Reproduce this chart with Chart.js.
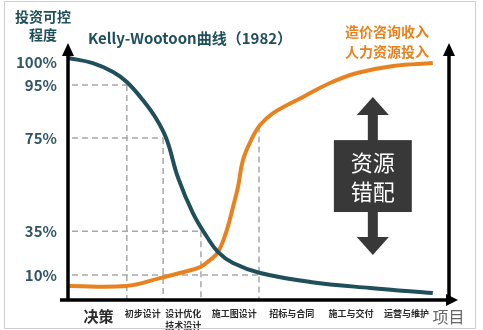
<!DOCTYPE html>
<html>
<head>
<meta charset="utf-8">
<script src="https://cdn.jsdelivr.net/npm/chart.js@4.4.1/dist/chart.umd.min.js"></script>
<style>
  body { margin: 0; background: #fff; }
  canvas { display: block; }
</style>
</head>
<body>
<canvas id="kelly" width="483" height="330"></canvas>
<script>
// stage axis (0..100 along the project life), control degree (0..100, schematic)
var stageLabels = ["决策", "初步设计", ["设计优化", "技术设计"], "施工图设计", "招标与合同", "施工与交付", "运营与维护", "项目"];
var stagePos = [8, 19.6, 30.2, 43.5, 58.6, 74.1, 88.6, 99.6];

var yTickLabels = ["100%", "95%", "75%", "35%", "10%"];
var yTickPos = [93.3, 84.3, 63.5, 27, 9.8];

// investment controllability curve (Kelly-Wootoon)
var investX = [0, 6.5, 11.8, 15.4, 19.6, 23.3, 25.9, 28.8, 32.7, 36.4, 39.3, 43.2, 50.3, 63.4, 79.1, 95.5];
var investY = [94.9, 92.9, 89.4, 85.5, 78.4, 70.6, 62.7, 48, 34.1, 24.7, 18.8, 14.5, 10.6, 7.1, 4.7, 2.7];

// consulting income / manpower input curve
var costX = [0, 15.2, 24.1, 29.3, 34.6, 37.2, 39.3, 41.6, 43.2, 44.5, 45.8, 48.2, 50.3, 53.7, 61.5, 68.6, 75.7, 85.1, 95.5];
var costY = [5.5, 5.5, 8.6, 10.6, 12.9, 15.7, 18.8, 27.5, 36.5, 44.3, 54.9, 63.5, 68.6, 73.3, 79.6, 85.1, 89, 91.8, 92.9];

// dashed guides: stage boundary x, level where the horizontal stops, top of vertical
var guideX = [15.4, 24.9, 34.8, 50];
var guideLevel = [84.3, 63.5, 27, 9.8];
var guideTop = [84.3, 63.5, 27, 68];

var FONT = "'Noto Sans CJK SC', 'Noto Sans', sans-serif";
var TEAL = "#1f4f5b";
var ORANGE = "#e8821e";

function pts(xs, ys) {
  return xs.map(function(x, i) { return { x: x, y: ys[i] }; });
}

var decor = {
  id: "decor",
  beforeDatasetsDraw: function(chart) {
    var ctx = chart.ctx, xs = chart.scales.x, ys = chart.scales.y;
    var left = chart.chartArea.left;
    ctx.save();
    ctx.strokeStyle = "#a8a8a8";
    ctx.lineWidth = 1.5;
    ctx.setLineDash([6, 4]);
    guideX.forEach(function(g, i) {
      var px = xs.getPixelForValue(g);
      var py = ys.getPixelForValue(guideLevel[i]);
      ctx.beginPath();
      ctx.moveTo(left + 4, py);
      ctx.lineTo(px, py);
      ctx.moveTo(px, ys.getPixelForValue(guideTop[i]));
      ctx.lineTo(px, ys.getPixelForValue(0));
      ctx.stroke();
    });
    ctx.restore();
  },
  afterDatasetsDraw: function(chart) {
    var ctx = chart.ctx, xs = chart.scales.x, ys = chart.scales.y;
    var a = chart.chartArea;
    ctx.save();

    // frame
    ctx.strokeStyle = "#cfcfcf";
    ctx.lineWidth = 1;
    ctx.strokeRect(4.5, 1.5, 471, 327);

    // axes
    ctx.strokeStyle = "#000";
    ctx.fillStyle = "#000";
    ctx.lineWidth = 3.5;
    ctx.beginPath();
    ctx.moveTo(a.left, a.bottom + 1);
    ctx.lineTo(a.left, a.top + 8);
    ctx.moveTo(a.left - 8, a.bottom);
    ctx.lineTo(a.right + 1, a.bottom);
    ctx.moveTo(a.right - 1, a.bottom);
    ctx.lineTo(a.right - 1, a.top + 8);
    ctx.stroke();
    function head(x, y, dir) {
      ctx.beginPath();
      if (dir === "up") {
        ctx.moveTo(x, y - 2);
        ctx.lineTo(x - 6, y + 11);
        ctx.lineTo(x + 6, y + 11);
      } else {
        ctx.moveTo(x + 12, y);
        ctx.lineTo(x, y - 6);
        ctx.lineTo(x, y + 6);
      }
      ctx.closePath();
      ctx.fill();
    }
    head(a.left, a.top, "up");
    head(a.right - 1, a.top, "up");
    head(a.right - 4, a.bottom, "right");

    // double arrow with box
    var bx1 = xs.getPixelForValue(69.6), bx2 = xs.getPixelForValue(90);
    var by1 = ys.getPixelForValue(62.7), by2 = ys.getPixelForValue(34.5);
    var cx = (bx1 + bx2) / 2;
    var tipTop = ys.getPixelForValue(79.6), tipBot = ys.getPixelForValue(17.6);
    ctx.fillStyle = "#383838";
    ctx.fillRect(cx - 5, tipTop + 16, 10, tipBot - tipTop - 32);
    ctx.beginPath();
    ctx.moveTo(cx, tipTop);
    ctx.lineTo(cx - 16, tipTop + 18);
    ctx.lineTo(cx + 16, tipTop + 18);
    ctx.closePath();
    ctx.fill();
    ctx.beginPath();
    ctx.moveTo(cx, tipBot);
    ctx.lineTo(cx - 16, tipBot - 18);
    ctx.lineTo(cx + 16, tipBot - 18);
    ctx.closePath();
    ctx.fill();
    ctx.fillRect(bx1, by1, bx2 - bx1, by2 - by1);
    ctx.fillStyle = "#fff";
    ctx.font = "22px " + FONT;
    ctx.textAlign = "center";
    ctx.textBaseline = "middle";
    ctx.fillText("资源", cx, by1 + 23);
    ctx.fillText("错配", cx, by1 + 52);

    // texts
    ctx.textAlign = "left";
    ctx.fillStyle = TEAL;
    ctx.font = "bold 14px " + FONT;
    ctx.fillText("投资可控", 15, 17);
    ctx.fillText("程度", 29, 35);
    ctx.font = "bold 15px " + FONT;
    ctx.fillText("Kelly-Wootoon曲线（1982）", 88, 38);
    ctx.fillStyle = ORANGE;
    ctx.font = "bold 14px " + FONT;
    ctx.fillText("造价咨询收入", 345, 32);
    ctx.fillText("人力资源投入", 345, 52);
    ctx.restore();
  }
};

new Chart(document.getElementById("kelly"), {
  type: "line",
  data: {
    datasets: [
      {
        data: pts(investX, investY),
        borderColor: TEAL,
        borderWidth: 4,
        pointRadius: 0,
        tension: 0.4,
        clip: false
      },
      {
        data: pts(costX, costY),
        borderColor: ORANGE,
        borderWidth: 4,
        pointRadius: 0,
        tension: 0.4,
        clip: false
      }
    ]
  },
  options: {
    responsive: false,
    animation: false,
    layout: { padding: { left: 0, right: 33, top: 45, bottom: 0 } },
    plugins: { legend: { display: false }, tooltip: { enabled: false } },
    scales: {
      x: {
        type: "linear",
        min: 0,
        max: 100,
        grid: { display: false, drawTicks: false },
        border: { display: false },
        afterFit: function(s) { s.height = 30; },
        afterBuildTicks: function(s) {
          s.ticks = stagePos.map(function(v) { return { value: v }; });
        },
        ticks: {
          autoSkip: false,
          maxRotation: 0,
          padding: 8,
          callback: function(v, i) { return stageLabels[i]; },
          color: function(c) { return c.index === 7 ? "#666" : "#2a2a2a"; },
          font: function(c) {
            if (c.index === 0) return { family: FONT, size: 15, weight: "bold", lineHeight: 1.1 };
            if (c.index === 7) return { family: FONT, size: 16, weight: "normal", lineHeight: 1.1 };
            return { family: FONT, size: 9, weight: "bold", lineHeight: 1.3 };
          }
        }
      },
      y: {
        min: 0,
        max: 100,
        grid: { display: false, drawTicks: false },
        border: { display: false },
        afterFit: function(s) { s.width = 68; },
        afterBuildTicks: function(s) {
          s.ticks = yTickPos.map(function(v) { return { value: v }; });
        },
        ticks: {
          autoSkip: false,
          padding: 11,
          color: "#2f5664",
          font: { family: FONT, size: 15, weight: "bold" },
          callback: function(v, i) { return yTickLabels[i]; }
        }
      }
    }
  },
  plugins: [decor]
});
</script>
</body>
</html>
